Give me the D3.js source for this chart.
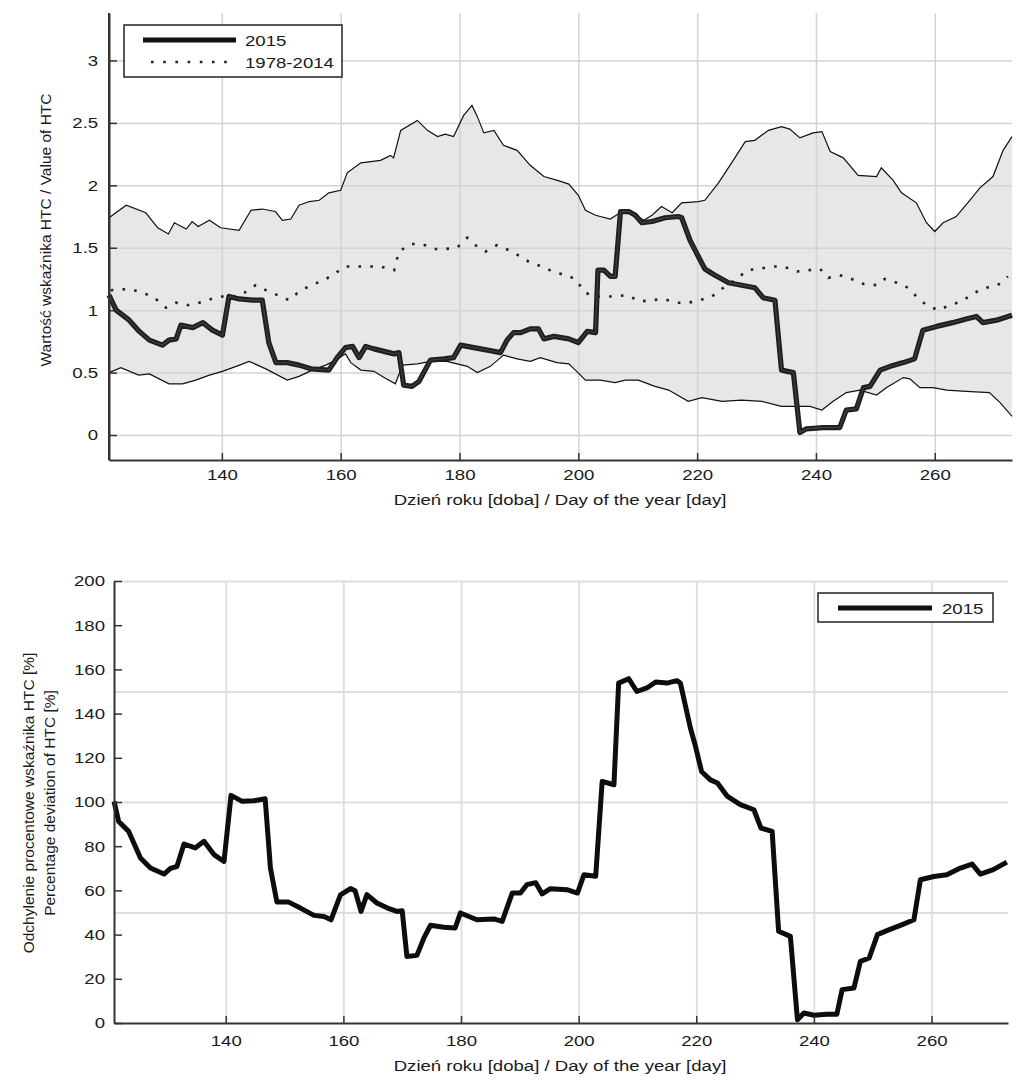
<!DOCTYPE html>
<html>
<head>
<meta charset="utf-8">
<script src="https://cdn.jsdelivr.net/npm/d3@7"></script>
<style>
  html, body { margin: 0; padding: 0; background: #fff; }
  svg { display: block; }
  text { font-family: "Liberation Sans", Arial, Helvetica, sans-serif; fill: #1a1a1a; }
</style>
</head>
<body>
<svg id="chart" width="1024" height="1083"></svg>
<script>
// ---------------- DATA ----------------
const upperDays = [121,123.9,127.2,129.2,131,132,134,135,136,137.9,139.8,142.9,144.9,146.8,149,150.2,151.6,153,154.7,156.4,158,160,161.1,163.4,166.7,168.4,168.9,170.1,172.9,174.6,176.3,177.6,179,180.7,182.1,183,184.1,185.8,187.4,189.7,191.9,194.2,196.5,198.4,200,201.2,202.9,205.4,207,209,211,212.4,214,215.8,217.4,220.2,221.3,223.6,225.8,228.1,229.7,232,234.2,235.6,237.3,239.5,241,242.4,244.6,247.1,250.2,251,253,254.4,256.9,258.6,260,261.4,263.6,265.9,267.6,269.8,271.5,273];
const upperVals = [1.74,1.84,1.78,1.66,1.61,1.70,1.65,1.71,1.67,1.72,1.66,1.64,1.80,1.81,1.79,1.72,1.73,1.84,1.87,1.88,1.94,1.96,2.10,2.18,2.20,2.24,2.22,2.44,2.52,2.44,2.39,2.41,2.39,2.56,2.64,2.55,2.42,2.44,2.32,2.28,2.16,2.07,2.04,2.01,1.92,1.80,1.76,1.73,1.78,1.78,1.72,1.76,1.83,1.78,1.86,1.87,1.88,2.02,2.18,2.35,2.36,2.44,2.47,2.45,2.38,2.42,2.43,2.27,2.22,2.08,2.07,2.14,2.04,1.94,1.86,1.70,1.63,1.70,1.75,1.88,1.98,2.07,2.28,2.39];

const lowerDays = [121,123,126,127.8,131.1,133.4,135.6,137.9,140.1,142.4,144.6,147.4,151,153,155.2,157.5,159.2,160.8,161.7,163.4,165.6,167.3,169.2,170.4,172.9,175.1,177.9,179.6,181.3,183,185.2,187.4,189.7,191.9,193.6,196.4,198.4,199.5,201.2,203.7,206.2,207.9,210.1,212.9,215.2,218.5,220.8,224.2,227.5,230.9,234.2,236.8,239,241,242.9,245.1,247.4,250.2,251.9,254.7,255.8,257.5,259.7,262,265.3,269.2,271,273];
const lowerVals = [0.50,0.54,0.48,0.49,0.41,0.41,0.44,0.48,0.51,0.55,0.59,0.53,0.44,0.47,0.52,0.56,0.60,0.65,0.58,0.52,0.51,0.46,0.41,0.56,0.57,0.59,0.59,0.57,0.55,0.50,0.55,0.64,0.61,0.59,0.62,0.58,0.57,0.52,0.44,0.44,0.42,0.44,0.44,0.39,0.36,0.27,0.30,0.27,0.28,0.27,0.23,0.23,0.23,0.20,0.27,0.34,0.36,0.32,0.38,0.46,0.45,0.38,0.38,0.36,0.35,0.34,0.26,0.15];

const meanDays = [121.3,124.4,126.7,128.6,130.6,132.3,134.2,136.2,138.2,140.1,142.1,143.8,145.7,147.4,149.4,151.3,153,155,157.2,159.2,160.8,162.8,164.8,166.7,169,169.8,171.8,173.7,175.7,177.6,179.6,181.3,182.7,184.4,186.3,188.3,190.3,191.9,193.9,196.1,198.1,199.8,200.7,202.3,204.3,206.2,208.2,210.4,212.4,214.3,216.6,218.5,220.5,222.5,224.7,226.7,228.4,230.3,232.6,234.5,236.8,238.7,240.7,242.1,244,246,248,250.2,251.6,253.6,255.5,256.9,258.6,260.6,262.5,264.5,266.7,268.7,270.6,272.3];
const meanVals = [1.16,1.17,1.14,1.10,1.02,1.06,1.04,1.06,1.09,1.11,1.11,1.14,1.20,1.16,1.12,1.08,1.15,1.20,1.24,1.30,1.35,1.35,1.35,1.35,1.32,1.47,1.53,1.53,1.49,1.49,1.50,1.58,1.52,1.47,1.52,1.48,1.43,1.38,1.35,1.30,1.28,1.24,1.16,1.11,1.11,1.11,1.12,1.07,1.08,1.09,1.06,1.06,1.08,1.11,1.19,1.25,1.32,1.33,1.35,1.35,1.31,1.32,1.33,1.26,1.28,1.25,1.21,1.20,1.25,1.22,1.18,1.11,1.04,1.00,1.04,1.07,1.14,1.18,1.20,1.27];

const y2015Days = [121,122.2,123.3,124.4,126.1,127.8,130,131.1,132.3,133.1,135.1,136.8,138.4,140.1,141.2,142.9,145.2,146.8,147.9,149.1,151,153,155,158,159.4,160.8,162,163.1,164.2,165.6,167.3,169,169.8,170.6,172,173.2,175.1,177.4,179,180.2,182.4,184.7,186.9,188,189.1,190.3,191.9,193.3,194.2,195.9,198.4,200,201.5,202.9,203.3,204.3,205.4,206.2,207.1,208.5,209.6,210.7,212.4,214.6,216.9,217.4,218.8,220.2,221.3,223,225.3,227.5,229.7,231.1,233.1,234.2,236.2,237.3,238.4,241.2,244,245.1,246.8,248,249.1,250.8,252.5,254.7,256.6,258,260.3,263,265.3,267,268.1,270.4,273];
const y2015Vals = [1.12,1.00,0.96,0.92,0.83,0.76,0.72,0.76,0.77,0.88,0.86,0.90,0.84,0.80,1.11,1.09,1.08,1.08,0.74,0.58,0.58,0.56,0.53,0.52,0.62,0.70,0.71,0.62,0.71,0.69,0.67,0.65,0.66,0.40,0.39,0.43,0.60,0.61,0.62,0.72,0.70,0.68,0.66,0.76,0.82,0.82,0.85,0.85,0.77,0.79,0.77,0.74,0.83,0.82,1.32,1.32,1.27,1.27,1.79,1.79,1.76,1.70,1.71,1.74,1.75,1.74,1.56,1.43,1.33,1.28,1.22,1.20,1.18,1.10,1.08,0.52,0.50,0.02,0.05,0.06,0.06,0.20,0.21,0.38,0.39,0.52,0.55,0.58,0.61,0.84,0.87,0.90,0.93,0.95,0.90,0.92,0.96];

const devDays = [121,121.8,123.5,125.5,127.2,129.5,130.6,131.7,132.9,134.8,136.3,138,139.7,140.9,142.8,144.8,146.7,147.6,148.7,150.7,152.7,155,156.7,157.9,159.5,161.2,162,163,164,165.7,167.4,169.1,170,170.8,172.5,173.7,174.8,177.1,179,179.9,182.7,185.6,187,188.7,190.1,191.2,192.7,193.8,195.2,198,199.8,200.9,202.9,204,206,206.8,208.5,209.9,211.6,213.1,215,216.7,217.3,219,219.8,220.9,222.4,223.6,225.3,227.5,229.8,231,232.9,234,236,237.2,238.3,240,242.2,243.9,244.8,246.8,247.9,249.4,250.8,252.5,254.7,257,258.1,260.4,262.6,264.9,266.9,268.3,270.5,272.8];
const devVals = [100.3,91.2,86.7,74.7,70.1,67.4,70,70.8,81,79.2,82.2,76.2,73.1,103,100.3,100.6,101.5,70,54.7,54.7,52,48.7,48.2,46.7,58,60.8,59.8,50.5,58.1,54.3,52.1,50.5,50.8,30.1,30.6,38.5,44.2,43.3,43,49.8,46.7,47.1,46,58.8,58.8,62.6,63.5,58.4,60.8,60.3,58.8,67.1,66.4,109.3,107.8,153.8,155.8,150,151.6,154.3,153.8,154.9,153.8,133.5,125.9,113.8,110,108.6,102.5,98.8,96.5,88.2,86.7,41.5,39.2,1.5,4.5,3.5,4,4,15.1,15.8,27.9,29.4,40,41.9,44.2,46.7,64.8,66.3,67.1,70.1,71.9,67.4,69.4,72.8];

const xTicks = [140,160,180,200,220,240,260];
const yTicksTop = [0,0.5,1,1.5,2,2.5,3];
const yTicksBottom = [0,20,40,60,80,100,120,140,160,180,200];
const yGridBottom = [50,100,150,200];
const legendTop = ["2015","1978-2014"];
const legendBottom = ["2015"];
const xTitle = "Dzień roku [doba] / Day of the year [day]";
const yTitleTop = "Wartość wskaźnika HTC / Value of HTC";
const yTitleBottom = ["Odchylenie procentowe wskaźnika HTC [%]","Percentage deviation of HTC [%]"];

// ---------------- DRAW ----------------
const SX = 1.2;       // horizontal stretch of the reference lettering
const FS = 15.5;
const svg = d3.select("#chart");

function zip(days, vals) { return days.map((d, i) => [d, vals[i]]); }

function styleAxis(g) {
  g.select(".domain").attr("stroke", "#333").attr("stroke-width", 2);
  g.selectAll(".tick line").attr("stroke", "#333").attr("stroke-width", 1.5);
  g.selectAll(".tick text").attr("font-size", FS).attr("fill", "#1a1a1a")
    .attr("font-family", '"Liberation Sans", Arial, sans-serif')
    .attr("transform", `scale(${SX},1)`);
}

function label(g, x, y, str, anchor, size) {
  return g.append("text")
    .attr("transform", `translate(${x},${y}) scale(${SX},1)`)
    .attr("text-anchor", anchor)
    .attr("font-size", size || FS)
    .text(str);
}

// ===== TOP CHART =====
{
  const L = 109, R = 1012, T = 13, B = 460;
  const x = d3.scaleLinear().domain([121, 273]).range([L, R]);
  const y = d3.scaleLinear().domain([-0.2, 3.38]).range([B, T]);
  const g = svg.append("g");

  const line = d3.line().x(d => x(d[0])).y(d => y(d[1]));
  const up = zip(upperDays, upperVals);
  const lo = zip(lowerDays, lowerVals);
  // band fill first
  g.append("path").attr("d", line(up.concat(lo.slice().reverse())) + "Z")
    .attr("fill", "#e7e7e7").attr("stroke", "none");

  // grid on top of band
  g.append("g").attr("transform", `translate(0,${B})`)
    .call(d3.axisBottom(x).tickValues(xTicks).tickSize(-(B - T)).tickFormat(""))
    .call(s => { s.select(".domain").remove(); s.selectAll("line").attr("stroke", "#d3d3d3").attr("stroke-width", 1.5); });
  g.append("g").attr("transform", `translate(${L},0)`)
    .call(d3.axisLeft(y).tickValues(yTicksTop).tickSize(-(R - L)).tickFormat(""))
    .call(s => { s.select(".domain").remove(); s.selectAll("line").attr("stroke", "#d3d3d3").attr("stroke-width", 1.5); });

  g.append("path").attr("d", line(up)).attr("fill", "none").attr("stroke", "#111").attr("stroke-width", 1.2);
  g.append("path").attr("d", line(lo)).attr("fill", "none").attr("stroke", "#111").attr("stroke-width", 1.2);
  // mean dotted
  g.append("path").attr("d", line(zip(meanDays, meanVals))).attr("fill", "none")
    .attr("stroke", "#222").attr("stroke-width", 2.6).attr("stroke-dasharray", "2.6,9.2");
  // 2015
  const p15 = line(zip(y2015Days, y2015Vals));
  g.append("path").attr("d", p15).attr("fill", "none").attr("stroke", "#1e1e1e").attr("stroke-width", 5.2).attr("stroke-linejoin", "round");
  g.append("path").attr("d", p15).attr("fill", "none").attr("stroke", "#3c3c3c").attr("stroke-width", 1.4).attr("stroke-linejoin", "round");

  // axes
  g.append("g").attr("transform", `translate(0,${B})`)
    .call(d3.axisBottom(x).tickValues(xTicks).tickSizeInner(-7).tickSizeOuter(0).tickPadding(9.5).tickFormat(d3.format("d")))
    .call(s => styleAxis(s));
  g.append("g").attr("transform", `translate(${L},0)`)
    .call(d3.axisLeft(y).tickValues(yTicksTop).tickSizeInner(-8).tickSizeOuter(0).tickPadding(9).tickFormat(d => String(d)))
    .call(s => styleAxis(s));
  g.append("line").attr("x1", L).attr("x2", L).attr("y1", T).attr("y2", B).attr("stroke", "#333").attr("stroke-width", 2);

  // titles
  label(g, 560, 505, xTitle, "middle", 15.5);
  g.append("text").attr("transform", `translate(51,230) rotate(-90)`)
    .attr("text-anchor", "middle").attr("font-size", 15.5).text(yTitleTop);

  // legend
  const lg = g.append("g");
  lg.append("rect").attr("x", 124).attr("y", 25).attr("width", 218).attr("height", 52)
    .attr("fill", "#fff").attr("stroke", "#222").attr("stroke-width", 1.5);
  lg.append("line").attr("x1", 143).attr("x2", 236).attr("y1", 40).attr("y2", 40)
    .attr("stroke", "#111").attr("stroke-width", 5);
  lg.append("line").attr("x1", 151).attr("x2", 232).attr("y1", 62).attr("y2", 62)
    .attr("stroke", "#222").attr("stroke-width", 2.6).attr("stroke-dasharray", "2.6,9.6");
  label(lg, 245, 46, legendTop[0], "start", 15.5);
  label(lg, 245, 68, legendTop[1], "start", 15.5);
}

// ===== BOTTOM CHART =====
{
  const L = 114, R = 1008, T = 581, B = 1023;
  const x = d3.scaleLinear().domain([121, 273]).range([L, R]);
  const y = d3.scaleLinear().domain([0, 200]).range([B, T]);
  const g = svg.append("g");

  g.append("g").attr("transform", `translate(0,${B})`)
    .call(d3.axisBottom(x).tickValues(xTicks).tickSize(-(B - T)).tickFormat(""))
    .call(s => { s.select(".domain").remove(); s.selectAll("line").attr("stroke", "#dedede").attr("stroke-width", 1.8); });
  g.append("g").attr("transform", `translate(${L},0)`)
    .call(d3.axisLeft(y).tickValues(yGridBottom).tickSize(-(R - L)).tickFormat(""))
    .call(s => { s.select(".domain").remove(); s.selectAll("line").attr("stroke", "#dedede").attr("stroke-width", 1.8); });

  const line = d3.line().x(d => x(d[0])).y(d => y(d[1]));
  g.append("path").attr("d", line(zip(devDays, devVals))).attr("fill", "none")
    .attr("stroke", "#0d0d0d").attr("stroke-width", 5).attr("stroke-linejoin", "round");

  g.append("g").attr("transform", `translate(0,${B})`)
    .call(d3.axisBottom(x).tickValues(xTicks).tickSizeInner(-7).tickSizeOuter(0).tickPadding(12).tickFormat(d3.format("d")))
    .call(s => styleAxis(s));
  g.append("g").attr("transform", `translate(${L},0)`)
    .call(d3.axisLeft(y).tickValues(yTicksBottom).tickSizeInner(-8).tickSizeOuter(0).tickPadding(7.5).tickFormat(d3.format("d")))
    .call(s => styleAxis(s));

  label(g, 560, 1071, xTitle, "middle", 15.5);
  g.append("text").attr("transform", `translate(34,803) rotate(-90)`)
    .attr("text-anchor", "middle").attr("font-size", 15.5).text(yTitleBottom[0]);
  g.append("text").attr("transform", `translate(55,803) rotate(-90)`)
    .attr("text-anchor", "middle").attr("font-size", 15.5).text(yTitleBottom[1]);

  const lg = g.append("g");
  lg.append("rect").attr("x", 818).attr("y", 593).attr("width", 175).attr("height", 29)
    .attr("fill", "#fff").attr("stroke", "#222").attr("stroke-width", 1.5);
  lg.append("line").attr("x1", 838).attr("x2", 932).attr("y1", 608).attr("y2", 608)
    .attr("stroke", "#111").attr("stroke-width", 5);
  label(lg, 942, 614, legendBottom[0], "start", 15.5);
}
</script>
</body>
</html>
